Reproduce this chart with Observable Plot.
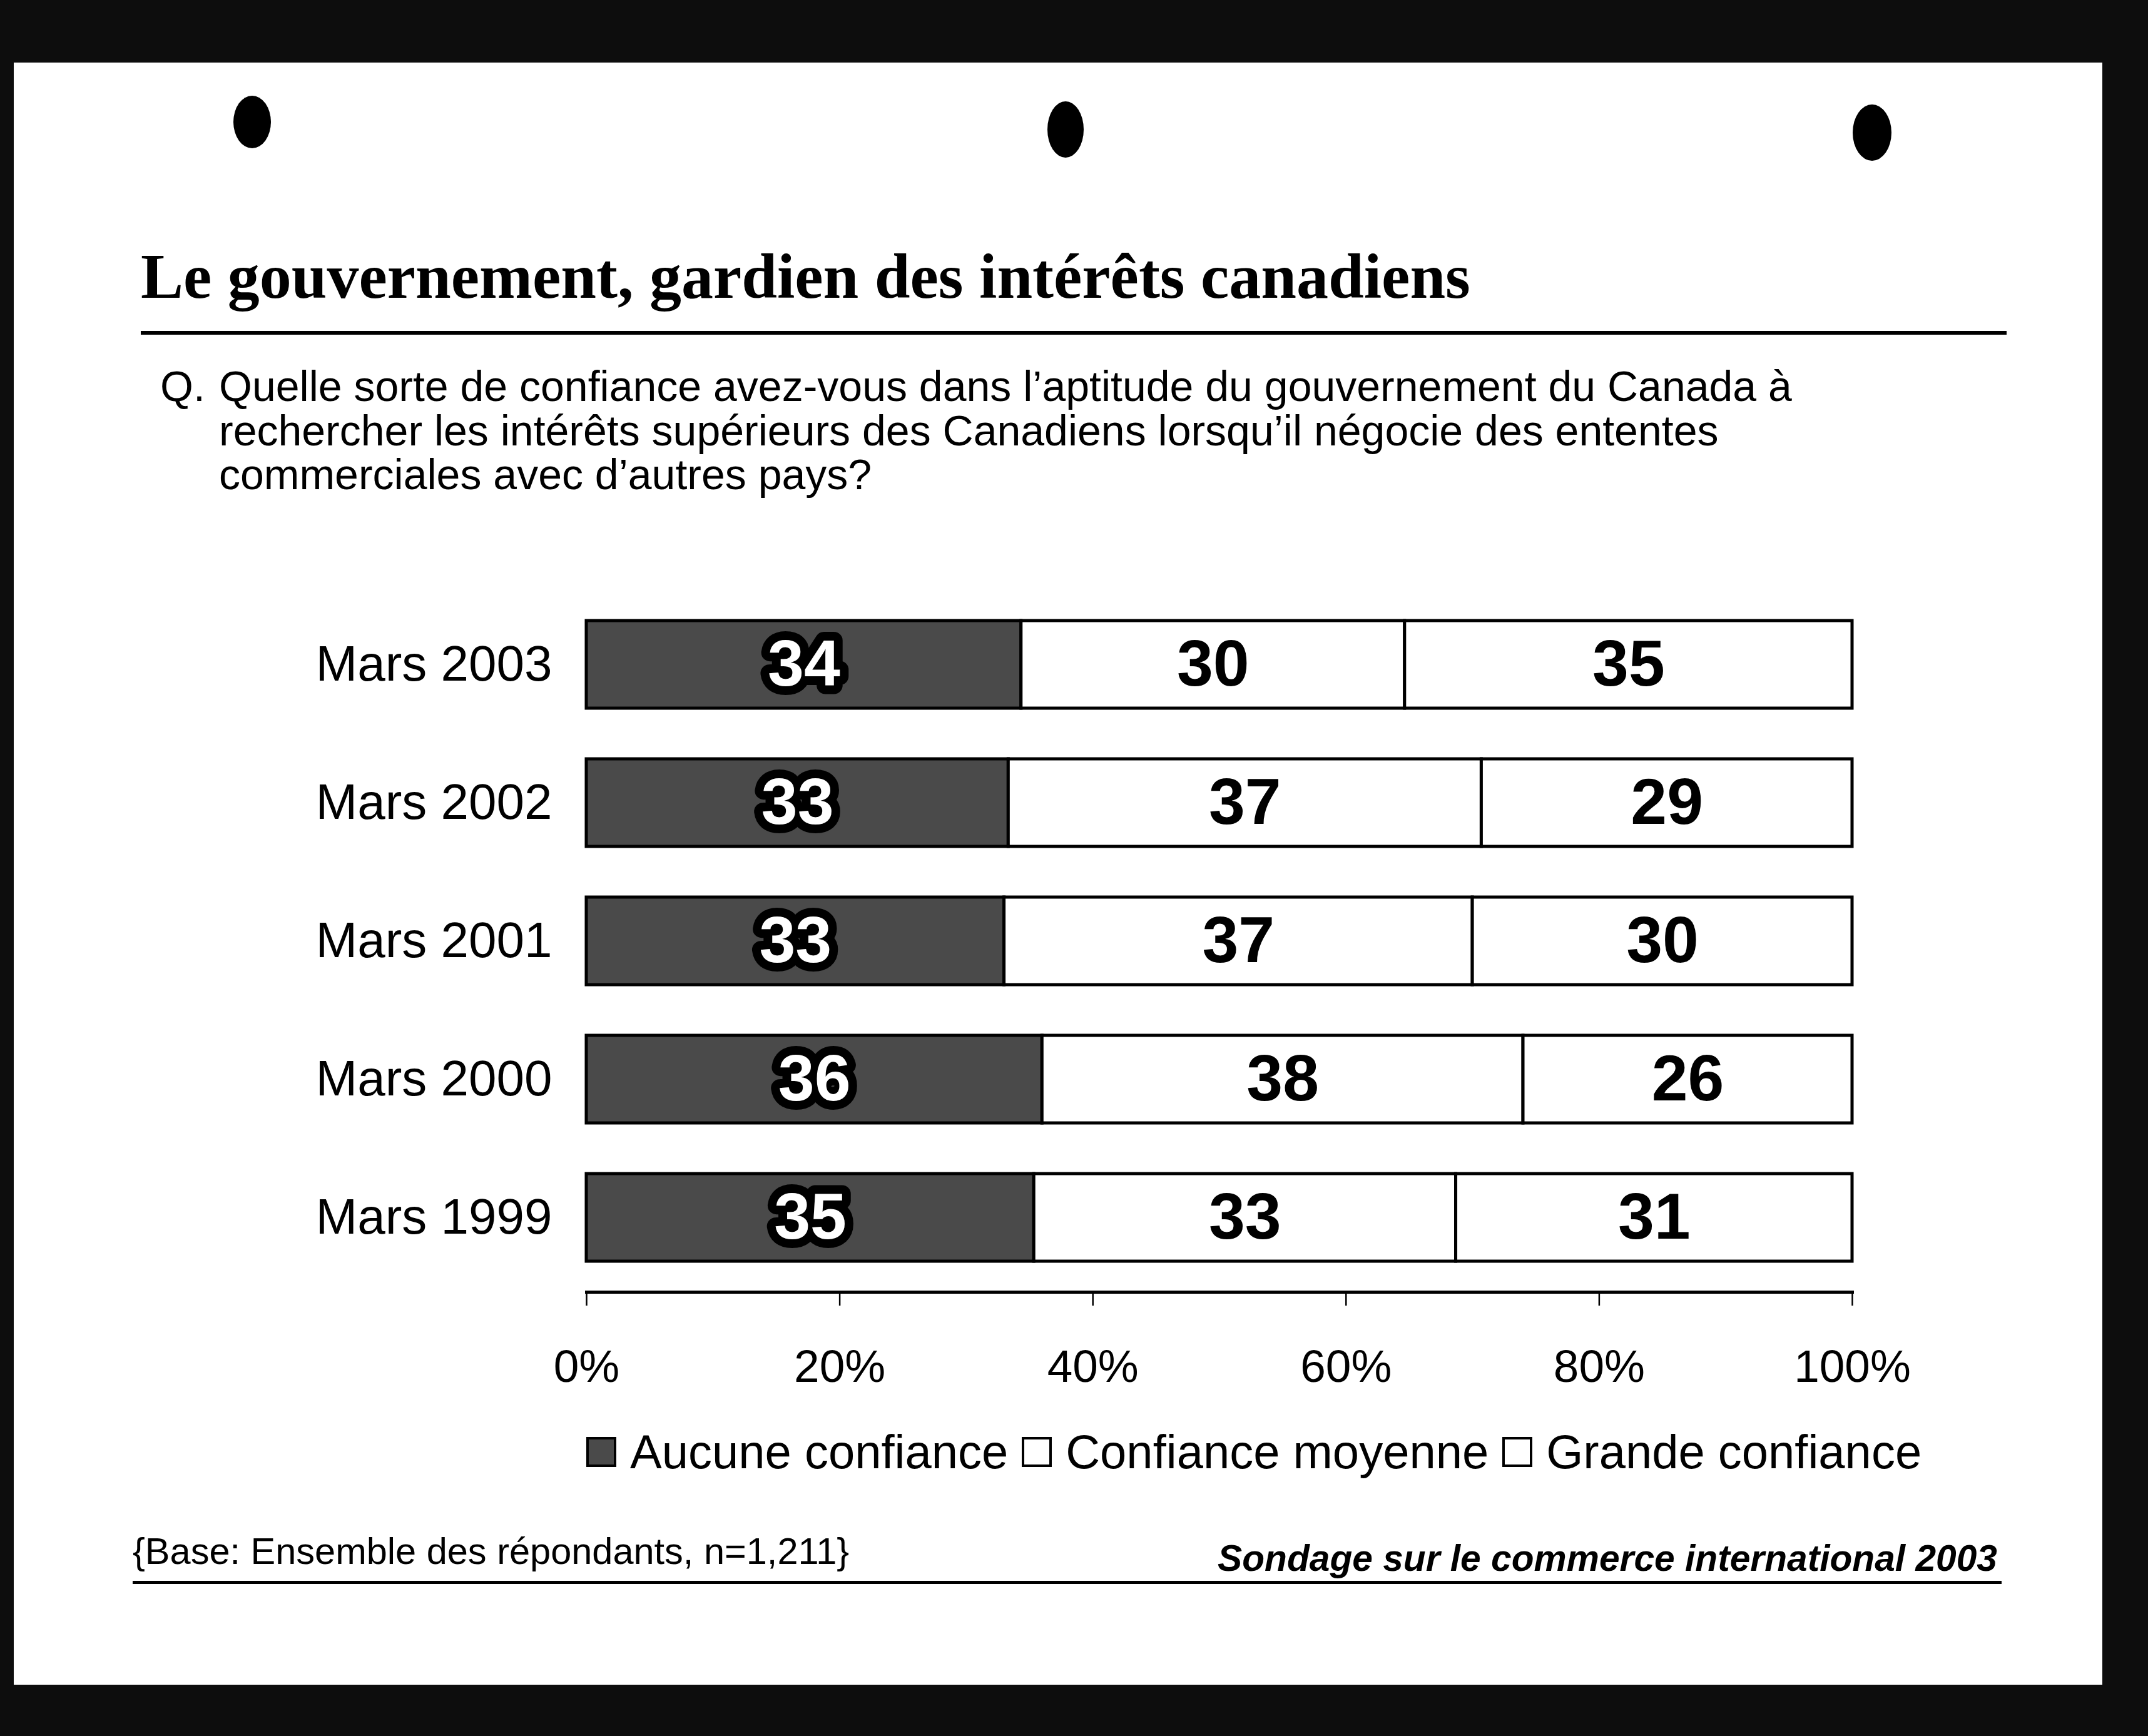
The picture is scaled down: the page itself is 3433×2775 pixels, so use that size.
<!DOCTYPE html>
<html><head><meta charset="utf-8">
<script src="https://cdn.jsdelivr.net/npm/d3@7"></script>
<script src="https://cdn.jsdelivr.net/npm/@observablehq/plot@0.6"></script>
<style>
html,body{margin:0;padding:0;background:#0d0d0d;}
#wrap{position:relative;width:3433px;height:2775px;overflow:hidden;background:#0d0d0d;font-family:Arial,"Liberation Sans",Helvetica,sans-serif;color:#000;}
#page{position:absolute;left:22px;top:100px;width:3338px;height:2593px;background:#fff;}
.abs{position:absolute;white-space:nowrap;line-height:1;}
.hole{position:absolute;background:#000;border-radius:50%;}
#title{left:225px;top:391px;font-family:"Liberation Serif","Times New Roman",serif;font-weight:bold;font-size:102px;}
#titlerule{position:absolute;left:225px;top:529px;width:2982px;height:6px;background:#000;}
#qmark{left:256px;top:582px;font-size:68px;line-height:70.5px;}
#question{left:350px;top:582px;font-size:68px;line-height:70.5px;}
#chart{position:absolute;left:0;top:900px;}
#legend{position:absolute;left:937px;top:2283px;height:76px;display:flex;align-items:center;font-size:76px;line-height:1;white-space:nowrap;}
.sw{width:40px;height:40px;border:4px solid #000;margin-right:22px;box-sizing:content-box;}
.lt{margin-right:22px;}
#base{left:212px;top:2450px;font-size:59.5px;}
#source{right:241px;top:2462px;font-size:58.7px;font-weight:bold;font-style:italic;}
#footrule{position:absolute;left:212px;top:2527px;width:2987px;height:5px;background:#000;}
</style></head><body>
<div id="wrap">
  <div id="page"></div>
  <div class="hole" style="left:373px;top:153px;width:60px;height:84px;"></div>
  <div class="hole" style="left:1674px;top:162px;width:58px;height:90px;"></div>
  <div class="hole" style="left:2961px;top:167px;width:62px;height:90px;"></div>
  <div class="abs" id="title">Le gouvernement, gardien des intérêts canadiens</div>
  <div id="titlerule"></div>
  <div class="abs" id="qmark">Q.</div>
  <div class="abs" id="question">Quelle sorte de confiance avez-vous dans l’aptitude du gouvernement du Canada à<br>rechercher les intérêts supérieurs des Canadiens lorsqu’il négocie des ententes<br>commerciales avec d’autres pays?</div>
  <div id="chart"></div>
  <div id="legend"></div>
  <div class="abs" id="base">{Base: Ensemble des répondants, n=1,211}</div>
  <div class="abs" id="source">Sondage sur le commerce international 2003</div>
  <div id="footrule"></div>
</div>
<script>
const periods = ["Mars 2003", "Mars 2002", "Mars 2001", "Mars 2000", "Mars 1999"];
const aucune  = [34, 33, 33, 36, 35];
const moyenne = [30, 37, 37, 38, 33];
const grande  = [35, 29, 30, 26, 31];
const levels  = ["Aucune confiance", "Confiance moyenne", "Grande confiance"];
const levelColors = ["#4a4a4a", "#ffffff", "#ffffff"];
const xTicks  = [0, 0.2, 0.4, 0.6, 0.8, 1];

const rows = periods.flatMap((p, i) => [
  {period: p, level: levels[0], value: aucune[i]},
  {period: p, level: levels[1], value: moyenne[i]},
  {period: p, level: levels[2], value: grande[i]}
]);

const chart = Plot.plot({
  width: 3433,
  height: 1360,
  marginLeft: 937,
  marginRight: 473,
  marginTop: 51.5,
  marginBottom: 195,
  style: {fontFamily: "Arial, 'Liberation Sans', sans-serif", background: "transparent", color: "black", overflow: "visible"},
  x: {domain: [0, 1], label: null},
  y: {domain: periods, range: [51.5, 1156.5], paddingInner: 0.3665, paddingOuter: 0.18325, align: 0.5, label: null},
  color: {domain: levels, range: levelColors},
  marks: [
    Plot.barX(rows, Plot.stackX({x: "value", y: "period", fill: "level", offset: "normalize", stroke: "black", strokeWidth: 5})),
    Plot.text(rows, Plot.stackX({
      x: "value", y: "period", z: "level", offset: "normalize",
      text: d => d.level === levels[0] ? String(d.value) : null,
      fill: "white", stroke: "black", strokeWidth: 28, strokeLinejoin: "round", paintOrder: "stroke",
      fontSize: 104, fontWeight: "bold"
    })),
    Plot.text(rows, Plot.stackX({
      x: "value", y: "period", z: "level", offset: "normalize",
      text: d => d.level !== levels[0] ? String(d.value) : null,
      fill: "black", fontSize: 104, fontWeight: "bold"
    })),
    Plot.axisY({tickSize: 0, tickPadding: 55, fontSize: 80, label: null}),
    Plot.axisX({ticks: xTicks, tickFormat: d => Math.round(d * 100) + "%", tickSize: 22, tickPadding: 70, fontSize: 73, strokeWidth: 2.5, label: null}),
    Plot.frame({anchor: "bottom", strokeWidth: 5})
  ]
});
document.getElementById("chart").appendChild(chart);

const legend = document.getElementById("legend");
levels.forEach((l, i) => {
  const sw = document.createElement("div");
  sw.className = "sw";
  sw.style.background = levelColors[i];
  legend.appendChild(sw);
  const t = document.createElement("span");
  t.className = "lt";
  t.textContent = l;
  legend.appendChild(t);
});
</script>
</body></html>
